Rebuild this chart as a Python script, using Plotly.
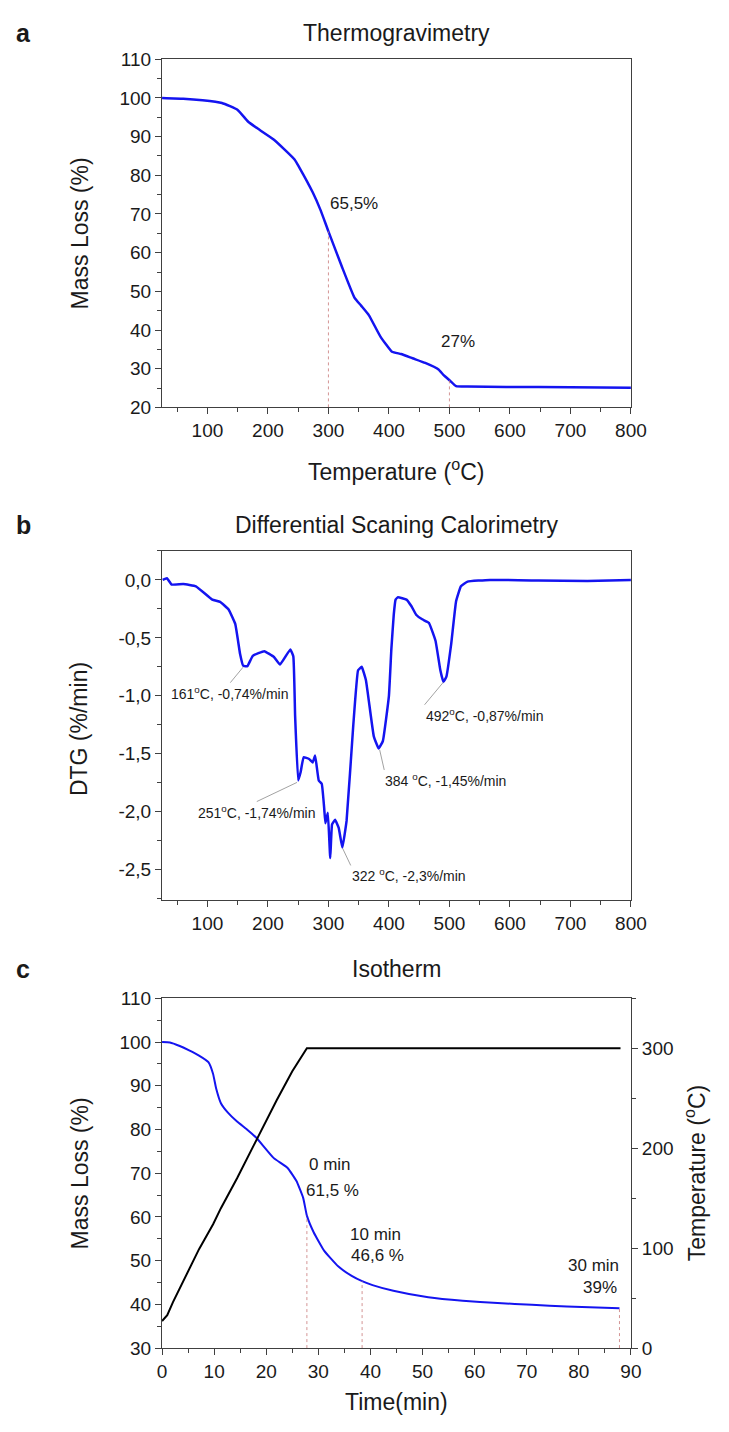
import plotly.graph_objects as go

# ---- data ----
# a) thermogravimetry: temperature (C) vs mass (%)
tg_temp = [25, 60, 92, 124, 150, 167, 180, 210, 244, 252, 274, 287, 300, 322, 343, 354,
           367, 386, 405, 420, 439, 460, 482, 490, 501, 511, 530, 594, 700, 800]
tg_mass = [100, 99.8, 99.4, 98.7, 96.9, 93.9, 92.4, 89.2, 84.1, 82.0, 75.6, 71.0, 65.5, 56.5,
           48.4, 46.3, 43.8, 38.3, 34.4, 33.8, 32.7, 31.5, 29.8, 28.4, 26.9, 25.5, 25.4, 25.3, 25.2, 25.1]
tg_mark_temp = [300, 500]
tg_mark_mass = [65.5, 27.0]
tg_labels = ["65,5%", "27%"]

# b) DTG: temperature (C) vs %/min
dtg_temp = [26, 33, 41, 60, 81, 108, 121, 135, 146, 154, 159, 166, 175, 194, 210, 220, 237, 242,
            245, 250, 254, 259, 268, 274, 278, 284, 289, 293, 295, 299, 303, 306, 311, 317, 323,
            330, 341, 349, 355, 362, 375, 383, 390, 400, 404, 408, 411, 415, 429, 437, 445, 455,
            466, 477, 485, 490, 495, 503, 511, 519, 530, 567, 647, 728, 800]
dtg_rate = [0.0, 0.015, -0.04, -0.035, -0.055, -0.17, -0.19, -0.255, -0.38, -0.64, -0.74, -0.745,
            -0.655, -0.615, -0.665, -0.73, -0.6, -0.66, -1.18, -1.73, -1.66, -1.53, -1.545, -1.575,
            -1.515, -1.73, -1.76, -1.97, -2.1, -2.01, -2.4, -2.11, -2.07, -2.14, -2.31, -2.08,
            -1.26, -0.78, -0.75, -0.865, -1.35, -1.455, -1.39, -1.0, -0.6, -0.3, -0.17, -0.15,
            -0.17, -0.225, -0.3, -0.34, -0.37, -0.525, -0.78, -0.88, -0.835, -0.55, -0.185,
            -0.055, -0.015, 0.0, -0.005, -0.01, 0.0]
dtg_peak_temp = [161, 251, 322, 384, 492]
dtg_peak_rate = [-0.74, -1.74, -2.3, -1.45, -0.87]
dtg_labels = ["161<sup>o</sup>C, -0,74%/min", "251<sup>o</sup>C, -1,74%/min",
              "322 <sup>o</sup>C, -2,3%/min", "384 <sup>o</sup>C, -1,45%/min",
              "492<sup>o</sup>C, -0,87%/min"]
dtg_ticks = [0.0, -0.5, -1.0, -1.5, -2.0, -2.5]
dtg_ticktext = ["0,0", "-0,5", "-1,0", "-1,5", "-2,0", "-2,5"]

# c) isotherm: time (min) vs mass (%) and furnace temperature (C)
iso_time = [0, 1.5, 3.4, 5.2, 7.1, 8.9, 9.8, 10.4, 11.3, 12.6, 14.4, 16.3, 18.1, 21.4, 24.1,
            25.8, 27.1, 27.8, 29.1, 31.1, 33.8, 36.4, 38.4, 40.4, 44.4, 51.1, 57.7, 64.4, 71.0,
            77.7, 87.8]
iso_mass = [100, 99.9, 99.1, 98.1, 96.9, 95.4, 92.7, 89.3, 86.0, 83.9, 81.8, 80.0, 78.1, 73.5,
            71.2, 68.2, 64.3, 60.3, 56.5, 52.3, 48.7, 46.5, 45.3, 44.4, 43.1, 41.6, 40.8, 40.3,
            39.9, 39.5, 39.1]
iso_temp_time = [0, 0.4, 1.0, 2.1, 4.6, 7.1, 9.8, 11.3, 14.4, 18.1, 22.0, 25.0, 27.8, 88.0]
iso_temp = [27, 29, 33, 46, 73, 99, 124, 140, 170, 208, 248, 277, 300, 300]
iso_mark_time = [27.8, 38.4, 87.8]
iso_mark_mass = [60.3, 45.3, 39.1]
iso_labels_min = ["0 min", "10 min", "30 min"]
iso_labels_pct = ["61,5 %", "46,6 %", "39%"]

# ---- figure ----
W, H = 729, 1432
FONT = "Liberation Sans, Arial, sans-serif"
TXT = "#1a1a1a"
AX = "#404040"
BLUE = "#1414f0"


def px_y(p):
    return 1 - p / H


fig = go.Figure()

fig.add_trace(go.Scatter(x=tg_temp, y=tg_mass, mode="lines",
                         line=dict(color=BLUE, width=2.5, shape="spline", smoothing=0.4),
                         xaxis="x", yaxis="y"))
fig.add_trace(go.Scatter(x=dtg_temp, y=dtg_rate, mode="lines",
                         line=dict(color=BLUE, width=2.5, shape="spline", smoothing=0.3),
                         xaxis="x2", yaxis="y2"))
fig.add_trace(go.Scatter(x=iso_time, y=iso_mass, mode="lines",
                         line=dict(color=BLUE, width=2, shape="spline", smoothing=0.4),
                         xaxis="x3", yaxis="y3"))
fig.add_trace(go.Scatter(x=iso_temp_time, y=iso_temp, mode="lines", line=dict(color="black", width=2),
                         xaxis="x3", yaxis="y4"))

# dotted drop lines
for t, m in zip(tg_mark_temp, tg_mark_mass):
    fig.add_trace(go.Scatter(x=[t, t], y=[20, m], mode="lines",
                             line=dict(color="#c87878", width=0.8, dash="dot"), xaxis="x", yaxis="y"))
for t, m in zip(iso_mark_time, iso_mark_mass):
    fig.add_trace(go.Scatter(x=[t, t], y=[30, m], mode="lines",
                             line=dict(color="#c87878", width=0.8, dash="dot"), xaxis="x3", yaxis="y3"))

xdom = [161.7 / W, 644.5 / W]
axis_style = dict(showline=True, linecolor=AX, linewidth=1.2, ticks="outside", ticklen=6, tickwidth=1.2,
                  tickcolor=AX, showgrid=False, zeroline=False,
                  tickfont=dict(family=FONT, size=19, color=TXT))

fig.update_layout(
    width=W, height=H, margin=dict(l=0, r=0, t=0, b=0),
    paper_bgcolor="white", plot_bgcolor="white", showlegend=False,
    font=dict(family=FONT, color=TXT),
    xaxis=dict(axis_style, domain=xdom, anchor="y", range=[25, 800], dtick=100, tick0=0, mirror=True,
               minor=dict(ticks="outside", ticklen=4, dtick=50, tick0=0, tickcolor=AX)),
    yaxis=dict(axis_style, domain=[px_y(403.3), px_y(50)], anchor="x", range=[20, 110], dtick=10, mirror=True,
               minor=dict(ticks="outside", ticklen=4, dtick=5, tickcolor=AX)),
    xaxis2=dict(axis_style, domain=xdom, anchor="y2", range=[25, 800], dtick=100, tick0=0, mirror=True,
                minor=dict(ticks="outside", ticklen=4, dtick=50, tick0=0, tickcolor=AX)),
    yaxis2=dict(axis_style, domain=[px_y(903), px_y(549)], anchor="x2", range=[-2.76, 0.25], mirror=True,
                tickvals=dtg_ticks, ticktext=dtg_ticktext,
                minor=dict(ticks="outside", ticklen=4, dtick=0.25, tick0=0, tickcolor=AX)),
    xaxis3=dict(axis_style, domain=xdom, anchor="y3", range=[0, 90], dtick=10, mirror=True,
                minor=dict(ticks="outside", ticklen=4, dtick=5, tickcolor=AX)),
    yaxis3=dict(axis_style, domain=[px_y(1358), px_y(1003)], anchor="x3", range=[30, 110], dtick=10,
                minor=dict(ticks="outside", ticklen=4, dtick=5, tickcolor=AX)),
    yaxis4=dict(axis_style, overlaying="y3", side="right", anchor="x3", range=[0, 350], dtick=100,
                minor=dict(ticks="outside", ticklen=4, dtick=50, tickcolor=AX)),
)

xc = (xdom[0] + xdom[1]) / 2
ann = []


def txt(x, y, s, size, **kw):
    d = dict(x=x, y=y, xref="paper", yref="paper", text=s, showarrow=False,
             font=dict(family=FONT, size=size, color=TXT), xanchor="center", yanchor="middle")
    d.update(kw)
    ann.append(d)


# panel letters and titles
for letter, yp, title in [("a", 23, "Thermogravimetry"), ("b", 523, "Differential Scaning Calorimetry"),
                          ("c", 973, "Isotherm")]:
    txt(19 / W, px_y(yp), "<b>" + letter + "</b>", 25)
    txt(xc, px_y(yp), title, 23)

# axis titles
txt(77 / W, px_y(227), "Mass Loss (%)", 23, textangle=-90)
txt(xc, px_y(467), "Temperature (<sup>o</sup>C)", 23)
txt(77 / W, px_y(730), "DTG (%/min)", 23, textangle=-90)
txt(77 / W, px_y(1181), "Mass Loss (%)", 23, textangle=-90)
txt(710 / W, px_y(1181), "Temperature (<sup>o</sup>C)", 23, textangle=-90)
txt(xc, px_y(1413), "Time(min)", 23)

# panel a labels
for (x, y), s in zip([(343, 72.6), (514, 37.1)], tg_labels):
    ann.append(dict(x=x, y=y, xref="x", yref="y", text=s, showarrow=False,
                    font=dict(family=FONT, size=17, color=TXT)))

# panel b labels with thin leader lines (tail offsets in px, text hung below the tail)
leader = [(-14, 17, "center"), (-42, 20, "center"), (9, 19, "left"), (5, 22, "left"), (-20, 24, "left")]
for t, r, (ax, ay, xa), s in zip(dtg_peak_temp, dtg_peak_rate, leader, dtg_labels):
    ann.append(dict(x=t, y=r, xref="x2", yref="y2", text=s, showarrow=True, arrowhead=0,
                    arrowwidth=0.8, arrowcolor="#8a8a8a", ax=ax, ay=ay, standoff=2,
                    xanchor=xa, yanchor="top", borderpad=0,
                    font=dict(family=FONT, size=14, color=TXT)))

# panel c labels
for (x, y), s in zip([(32.3, 72.0), (40.9, 56.0), (82.9, 48.9)], iso_labels_min):
    ann.append(dict(x=x, y=y, xref="x3", yref="y3", text=s, showarrow=False,
                    font=dict(family=FONT, size=17, color=TXT)))
for (x, y), s in zip([(32.8, 66.0), (41.4, 51.1), (84.0, 43.8)], iso_labels_pct):
    ann.append(dict(x=x, y=y, xref="x3", yref="y3", text=s, showarrow=False,
                    font=dict(family=FONT, size=17, color=TXT)))

fig.update_layout(annotations=ann)
# the default page has an 8px body margin; drop it so the figure sits at the window origin
fig.write_html("out.html", config={"displayModeBar": False},
               post_script="document.body.style.margin='0';")
